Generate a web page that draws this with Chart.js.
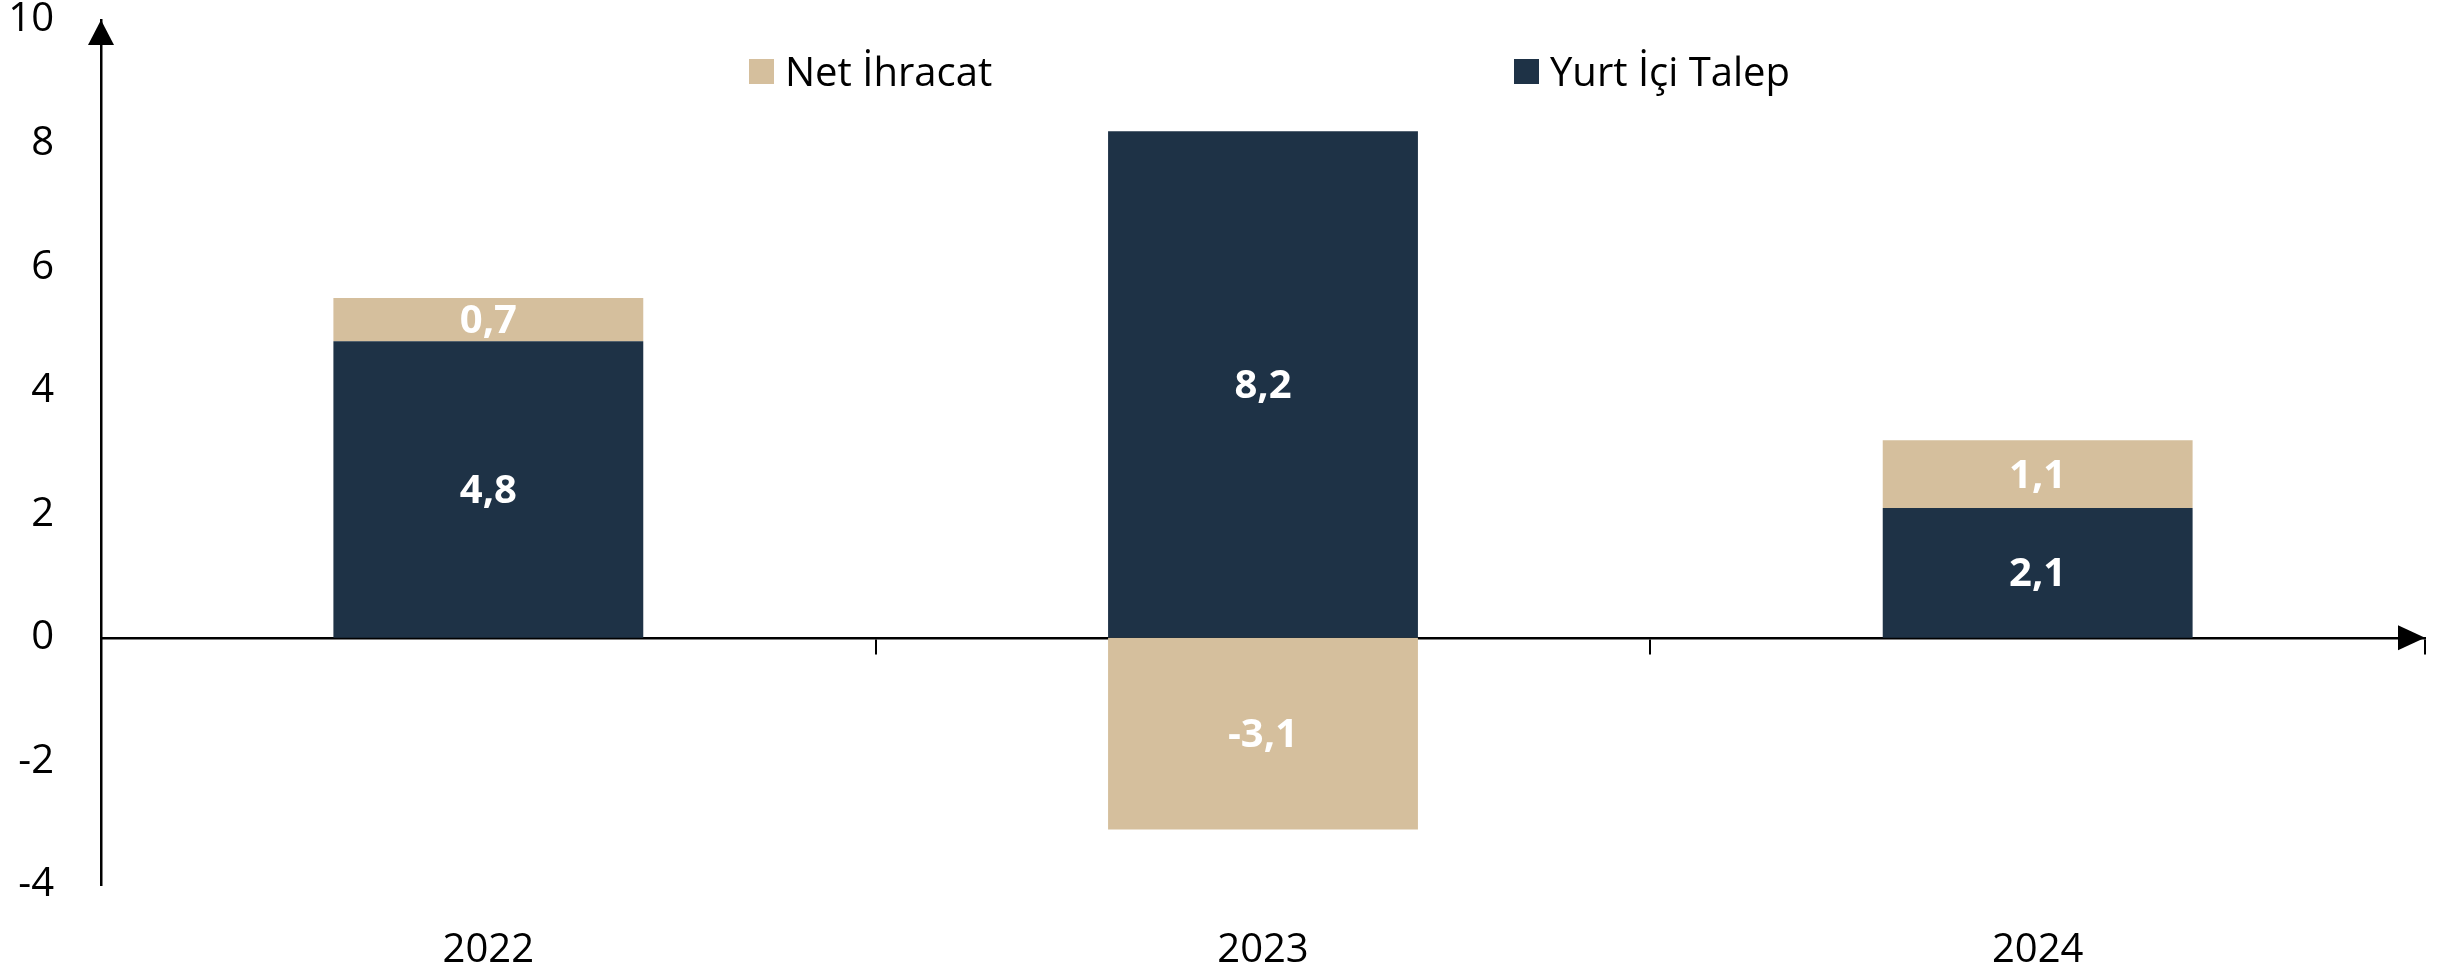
<!DOCTYPE html>
<html lang="tr">
<head>
<meta charset="utf-8">
<script src="https://cdn.jsdelivr.net/npm/chart.js@4"></script>
<style>
    body { margin: 0; background: #ffffff; }
    #wrap { position: relative; width: 2448px; height: 970px; }
    .legend-item {
        position: absolute;
        top: 48px;
        display: flex;
        align-items: center;
        font-family: 'Open Sans', sans-serif;
        font-size: 40px;
        color: #000000;
        line-height: 46px;
    }
    .legend-item span.box {
        display: inline-block;
        width: 25px;
        height: 25px;
        margin-right: 11px;
    }
</style>
</head>
<body>
<div id="wrap">
    <canvas id="gdpChart" width="2448" height="970"></canvas>
    <div id="legend"></div>
</div>
<script>
// Büyümeye katkılar (yüzde puan)
const years = ['2022', '2023', '2024'];
const domesticDemand = [4.8, 8.2, 2.1];   // Yurt İçi Talep
const netExports = [0.7, -3.1, 1.1];      // Net İhracat
const yTicks = [-4, -2, 0, 2, 4, 6, 8, 10];

const NAVY = '#1e3246';
const SAND = '#d5bf9d';
const FONT = "'Open Sans', sans-serif";

// legend order as in the original: Net İhracat first
const legendItems = [
    { label: 'Net İhracat', color: SAND, left: 749 },
    { label: 'Yurt İçi Talep', color: NAVY, left: 1514 }
];

const legendEl = document.getElementById('legend');
legendItems.forEach(item => {
    const div = document.createElement('div');
    div.className = 'legend-item';
    div.style.left = item.left + 'px';
    div.innerHTML = '<span class="box" style="background:' + item.color + '"></span>' + item.label;
    legendEl.appendChild(div);
});

function fmt(v) {
    return v.toFixed(1).replace('.', ',');
}

// white value labels in the middle of each segment
const valueLabels = {
    id: 'valueLabels',
    afterDatasetsDraw(chart) {
        const ctx = chart.ctx;
        ctx.save();
        ctx.font = 'bold 40px ' + FONT;
        ctx.fillStyle = '#ffffff';
        ctx.textAlign = 'center';
        ctx.textBaseline = 'middle';
        chart.data.datasets.forEach((ds, i) => {
            const meta = chart.getDatasetMeta(i);
            meta.data.forEach((bar, j) => {
                const p = bar.getProps(['x', 'y', 'base'], true);
                ctx.fillText(fmt(ds.data[j]), p.x, (p.y + p.base) / 2 + 2);
            });
        });
        ctx.restore();
    }
};

// arrow heads at the ends of the axes
const axisArrows = {
    id: 'axisArrows',
    afterDraw(chart) {
        const ctx = chart.ctx;
        const area = chart.chartArea;
        const y0 = chart.scales.y.getPixelForValue(0);
        ctx.save();
        ctx.fillStyle = '#000000';
        // top of y axis
        ctx.beginPath();
        ctx.moveTo(area.left, area.top);
        ctx.lineTo(area.left - 13, area.top + 25);
        ctx.lineTo(area.left + 13, area.top + 25);
        ctx.closePath();
        ctx.fill();
        // right end of zero line
        ctx.beginPath();
        ctx.moveTo(area.right, y0);
        ctx.lineTo(area.right - 27, y0 - 12.5);
        ctx.lineTo(area.right - 27, y0 + 12.5);
        ctx.closePath();
        ctx.fill();
        ctx.restore();
    }
};

const ctx = document.getElementById('gdpChart');
new Chart(ctx, {
    type: 'bar',
    data: {
        labels: years,
        datasets: [
            {
                label: 'Yurt İçi Talep',
                data: domesticDemand,
                backgroundColor: NAVY,
                borderWidth: 0,
                barPercentage: 0.4,
                categoryPercentage: 1.0
            },
            {
                label: 'Net İhracat',
                data: netExports,
                backgroundColor: SAND,
                borderWidth: 0,
                barPercentage: 0.4,
                categoryPercentage: 1.0
            }
        ]
    },
    options: {
        responsive: false,
        animation: false,
        devicePixelRatio: 1,
        layout: {
            padding: { left: 8, right: 23, top: 0, bottom: 0 }
        },
        plugins: {
            legend: { display: false },
            tooltip: { enabled: false }
        },
        scales: {
            // year labels along the bottom edge
            x: {
                stacked: true,
                position: 'bottom',
                grid: { display: false, drawTicks: false },
                border: { display: false },
                ticks: {
                    color: '#000000',
                    padding: 42,
                    font: { family: FONT, size: 40 }
                },
                afterFit(scale) {
                    scale.height = 85;
                    scale.paddingLeft = 0;
                    scale.paddingRight = 0;
                }
            },
            // zero line with the small tick marks between categories
            x2: {
                type: 'category',
                labels: years,
                position: { y: 0 },
                offset: true,
                grid: {
                    offset: true,
                    drawOnChartArea: false,
                    drawTicks: true,
                    tickLength: 15,
                    color: '#000000',
                    lineWidth: 2
                },
                border: { display: true, color: '#000000', width: 2.5 },
                ticks: { display: false }
            },
            y: {
                stacked: true,
                min: yTicks[0],
                max: yTicks[yTicks.length - 1],
                afterBuildTicks(scale) {
                    scale.ticks = yTicks.map(v => ({ value: v }));
                },
                grid: { display: false, drawTicks: false },
                border: { display: true, color: '#000000', width: 2.5 },
                ticks: {
                    color: '#000000',
                    padding: 47,
                    font: { family: FONT, size: 40, lineHeight: 1.0 }
                },
                afterFit(scale) {
                    scale.width = 93;
                    scale.paddingTop = 20;
                    scale.paddingBottom = 0;
                }
            }
        }
    },
    plugins: [valueLabels, axisArrows]
});
</script>
</body>
</html>
